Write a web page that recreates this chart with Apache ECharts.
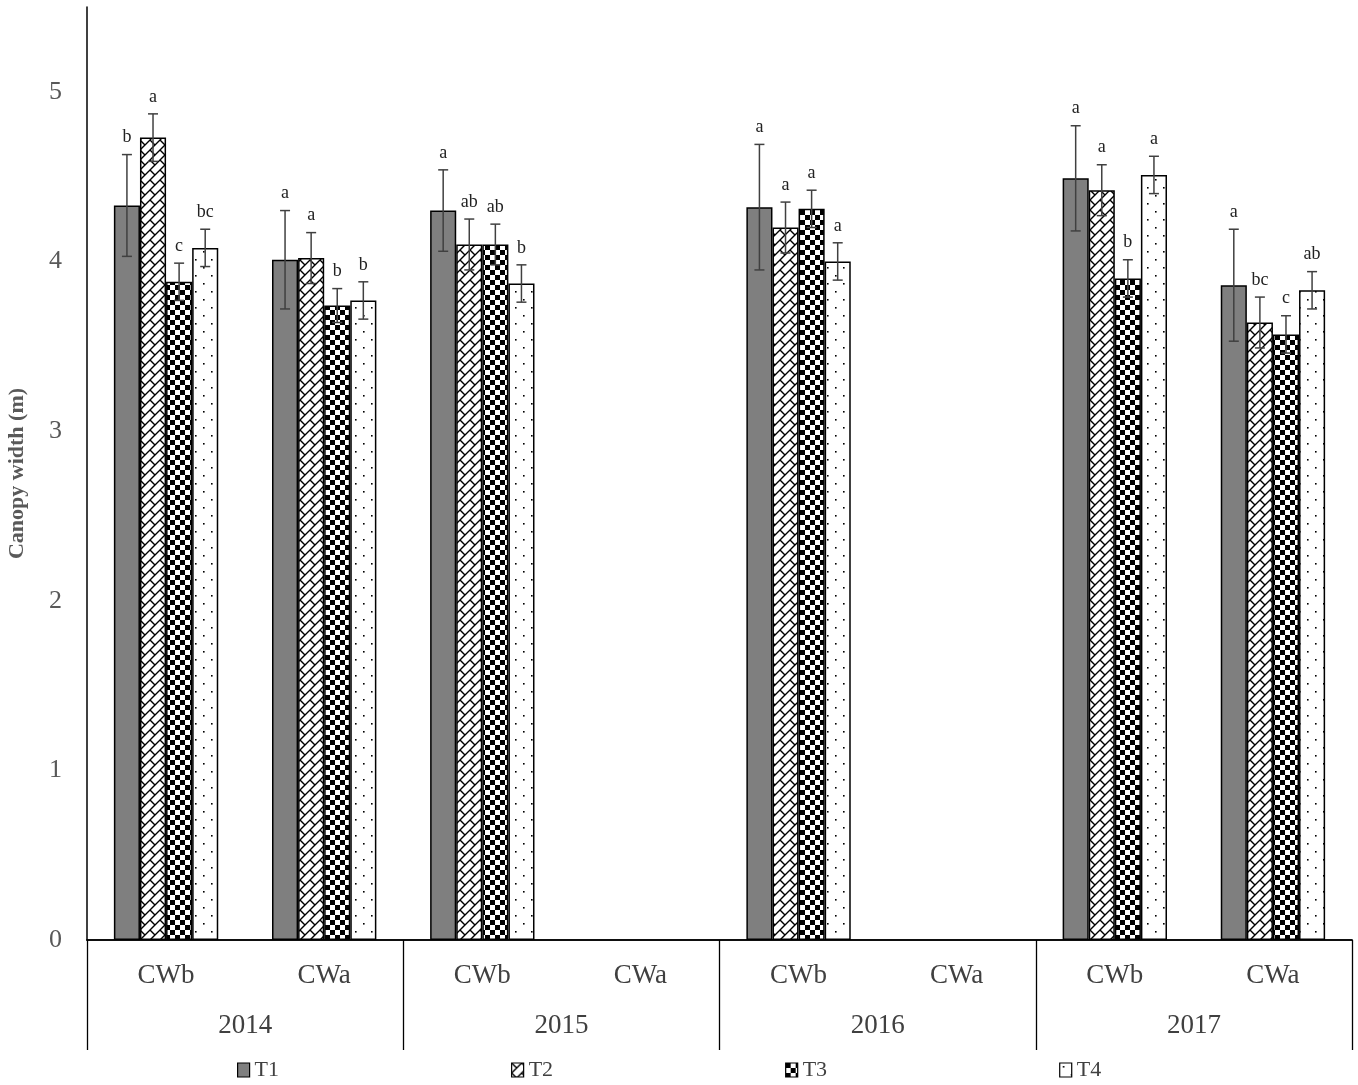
<!DOCTYPE html>
<html>
<head>
<meta charset="utf-8">
<script src="https://cdn.jsdelivr.net/npm/echarts@6/dist/echarts.min.js"></script>
<style>
  html, body { margin: 0; padding: 0; background: #fff; }
  #chart { width: 1358px; height: 1085px; }
</style>
</head>
<body>
<div id="chart"></div>
<script>
// categories (two levels)
const groups = ['CWb', 'CWa', 'CWb', 'CWa', 'CWb', 'CWa', 'CWb', 'CWa'];
const years = ['2014', '2015', '2016', '2017'];
const treatments = ['T1', 'T2', 'T3', 'T4'];

// means (m) - 2015/2016 CWa have no data
const t1 = [4.33, 4.01, 4.30, null, 4.32, null, 4.49, 3.86];
const t2 = [4.73, 4.02, 4.10, null, 4.20, null, 4.42, 3.64];
const t3 = [3.88, 3.74, 4.10, null, 4.31, null, 3.90, 3.57];
const t4 = [4.08, 3.77, 3.87, null, 4.00, null, 4.51, 3.83];

// error bars
const t1Err = [0.30, 0.29, 0.24, null, 0.37, null, 0.31, 0.33];
const t2Err = [0.14, 0.15, 0.15, null, 0.15, null, 0.15, 0.15];
const t3Err = [0.11, 0.10, 0.12, null, 0.11, null, 0.11, 0.11];
const t4Err = [0.11, 0.11, 0.11, null, 0.11, null, 0.11, 0.11];

// significance letters
const t1Sig = ['b', 'a', 'a', '', 'a', '', 'a', 'a'];
const t2Sig = ['a', 'a', 'ab', '', 'a', '', 'a', 'bc'];
const t3Sig = ['c', 'b', 'ab', '', 'a', '', 'b', 'c'];
const t4Sig = ['bc', 'b', 'b', '', 'a', '', 'a', 'ab'];

const means = [t1, t2, t3, t4];
const errs = [t1Err, t2Err, t3Err, t4Err];
const sigs = [t1Sig, t2Sig, t3Sig, t4Sig];

const FONT = '"Liberation Serif", "Times New Roman", serif';
const GAP = 0.34; // barCategoryGap

// fill patterns like the excel ones
function makeTile(size, draw) {
  const c = document.createElement('canvas');
  c.width = size; c.height = size;
  const ctx = c.getContext('2d');
  ctx.fillStyle = '#fff';
  ctx.fillRect(0, 0, size, size);
  draw(ctx);
  return { image: c, repeat: 'repeat' };
}
const fills = [
  '#7f7f7f',
  makeTile(10, ctx => {   // diagonal brick
    ctx.strokeStyle = '#000'; ctx.lineWidth = 1.4;
    ctx.beginPath();
    ctx.moveTo(-1, 11); ctx.lineTo(11, -1);
    ctx.moveTo(0, 0); ctx.lineTo(5, 5);
    ctx.moveTo(5, 15); ctx.lineTo(15, 5);
    ctx.stroke();
  }),
  makeTile(10, ctx => {   // checkerboard
    ctx.fillStyle = '#000';
    ctx.fillRect(0, 0, 5, 5);
    ctx.fillRect(5, 5, 5, 5);
  }),
  makeTile(16, ctx => {   // dots
    ctx.fillStyle = '#000';
    ctx.fillRect(3, 3, 1.6, 1.6);
    ctx.fillRect(11, 11, 1.6, 1.6);
  })
];

const chart = echarts.init(document.getElementById('chart'));

const barSeries = treatments.map((name, k) => ({
  name: name,
  type: 'bar',
  xAxisIndex: 0,
  data: means[k],
  barGap: 0,
  barCategoryGap: (GAP * 100) + '%',
  itemStyle: { color: fills[k], borderColor: '#000', borderWidth: 1.5 },
  emphasis: { disabled: true }
}));

// error bars + letters, placed over each bar through the axis scales
const errSeries = treatments.map((name, k) => ({
  type: 'custom',
  xAxisIndex: 0,
  z: 5,
  silent: true,
  data: means[k].map((m, i) => m == null ? null : [i, m, errs[k][i]]),
  renderItem: function (params, api) {
    const i = params.dataIndex;
    const band = api.size([1, 0])[0];
    const bw = band * (1 - GAP) / 4;
    const cx = api.coord([api.value(0), 0])[0] - band * (1 - GAP) / 2 + bw * (k + 0.5);
    const top = api.coord([0, api.value(1) + api.value(2)])[1];
    const bot = api.coord([0, api.value(1) - api.value(2)])[1];
    const st = { stroke: '#404040', lineWidth: 1.5 };
    return {
      type: 'group',
      children: [
        { type: 'line', shape: { x1: cx, y1: top, x2: cx, y2: bot }, style: st },
        { type: 'line', shape: { x1: cx - 5, y1: top, x2: cx + 5, y2: top }, style: st },
        { type: 'line', shape: { x1: cx - 5, y1: bot, x2: cx + 5, y2: bot }, style: st },
        { type: 'text', x: cx, y: top - 8,
          style: { text: sigs[k][i], fill: '#222', font: '18px ' + FONT,
                   align: 'center', verticalAlign: 'bottom' } }
      ]
    };
  }
}));

const option = {
  backgroundColor: '#fff',
  animation: false,
  grid: { left: 87, right: 6, top: 7, bottom: 145, containLabel: false, outerBoundsMode: 'none' },
  legend: {
    data: treatments,
    icon: 'rect',
    left: 232, top: 1054,
    itemWidth: 12, itemHeight: 14, itemGap: 232,
    textStyle: { fontFamily: FONT, fontSize: 22, color: '#404040' },
    itemStyle: { borderColor: '#000', borderWidth: 1.2 }
  },
  xAxis: [
    {
      type: 'category', position: 'bottom', data: groups,
      axisLine: { lineStyle: { color: '#000', width: 1.5 } },
      axisTick: { show: false },
      axisLabel: { margin: 22, fontFamily: FONT, fontSize: 27, color: '#404040' }
    },
    {
      type: 'category', position: 'bottom', data: years,
      axisLine: { lineStyle: { color: '#000', width: 1.5 } },
      axisTick: { show: true, length: 110, lineStyle: { color: '#000', width: 1.3 } },
      axisLabel: { margin: 72, fontFamily: FONT, fontSize: 27, color: '#404040' }
    }
  ],
  yAxis: {
    type: 'value', min: 0, max: 5.5, interval: 1,
    name: 'Canopy width (m)', nameLocation: 'middle', nameGap: 59,
    nameTextStyle: { fontFamily: FONT, fontSize: 22, fontWeight: 'bold', color: '#595959' },
    axisLine: { show: true, lineStyle: { color: '#000', width: 1.5 } },
    axisTick: { show: false },
    splitLine: { show: false },
    axisLabel: {
      margin: 25, fontFamily: FONT, fontSize: 26, color: '#595959',
      formatter: v => (Number.isInteger(v) ? String(v) : '')
    }
  },
  series: barSeries.concat(errSeries)
};

chart.setOption(option);
</script>
</body>
</html>
